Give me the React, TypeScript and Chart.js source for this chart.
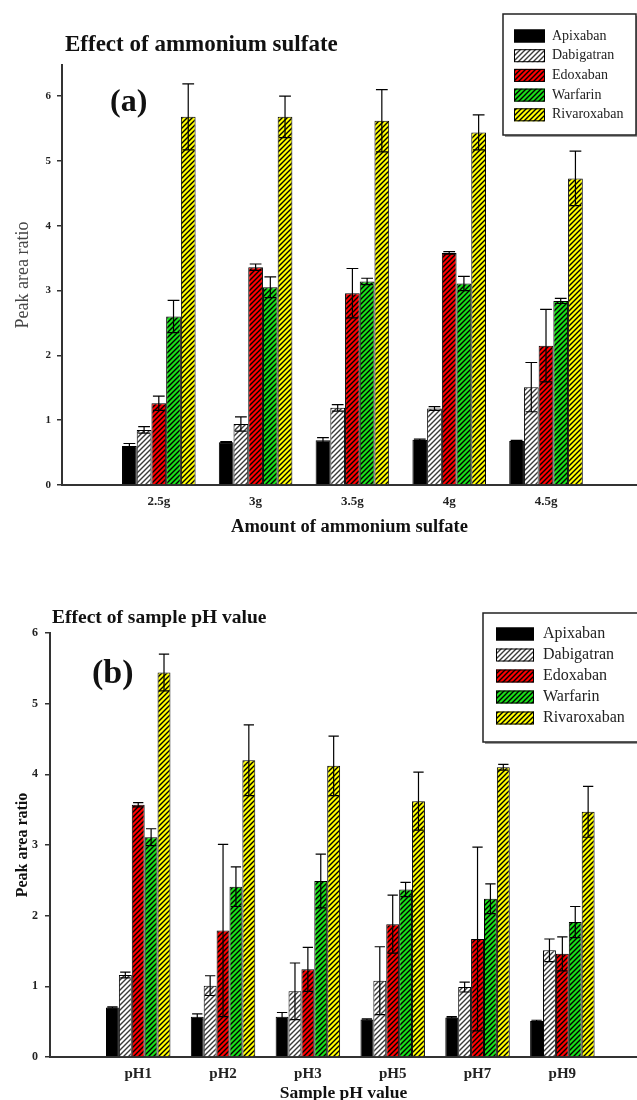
import React, { useEffect, useRef } from "react";
import { Chart, registerables } from "chart.js";

Chart.register(...registerables);

const SERIF = "'Liberation Serif', 'Times New Roman', serif";

// ---- series metadata ----
const seriesNames = ["Apixaban", "Dabigatran", "Edoxaban", "Warfarin", "Rivaroxaban"];
const seriesFill = ["#000000", "#ffffff", "#ff0000", "#19e019", "#ffff00"];
const seriesHatch = ["", "#3a3a3a", "#000000", "#000000", "#000000"];

// ---- (a) Effect of ammonium sulfate ----
const amountLabels = ["2.5g", "3g", "3.5g", "4g", "4.5g"];
const amountApixaban = [0.6, 0.66, 0.69, 0.7, 0.68];
const amountApixabanErr = [0.04, 0.01, 0.04, 0.01, 0.01];
const amountDabigatran = [0.85, 0.94, 1.19, 1.18, 1.51];
const amountDabigatranErr = [0.05, 0.11, 0.05, 0.03, 0.38];
const amountEdoxaban = [1.26, 3.36, 2.96, 3.58, 2.15];
const amountEdoxabanErr = [0.11, 0.05, 0.38, 0.02, 0.56];
const amountWarfarin = [2.6, 3.05, 3.14, 3.11, 2.84];
const amountWarfarinErr = [0.25, 0.16, 0.05, 0.11, 0.04];
const amountRivaroxaban = [5.68, 5.68, 5.62, 5.44, 4.73];
const amountRivaroxabanErr = [0.51, 0.32, 0.48, 0.27, 0.42];

// ---- (b) Effect of sample pH value ----
const phLabels = ["pH1", "pH2", "pH3", "pH5", "pH7", "pH9"];
const phApixaban = [0.7, 0.57, 0.57, 0.53, 0.56, 0.51];
const phApixabanErr = [0.01, 0.04, 0.06, 0.01, 0.01, 0.01];
const phDabigatran = [1.16, 1.01, 0.93, 1.08, 0.99, 1.51];
const phDabigatranErr = [0.04, 0.14, 0.4, 0.48, 0.07, 0.16];
const phEdoxaban = [3.57, 1.79, 1.24, 1.88, 1.67, 1.46];
const phEdoxabanErr = [0.03, 1.22, 0.31, 0.41, 1.3, 0.24];
const phWarfarin = [3.11, 2.41, 2.49, 2.37, 2.24, 1.91];
const phWarfarinErr = [0.12, 0.28, 0.38, 0.1, 0.21, 0.22];
const phRivaroxaban = [5.44, 4.2, 4.12, 3.62, 4.1, 3.47];
const phRivaroxabanErr = [0.26, 0.5, 0.42, 0.41, 0.04, 0.36];

const amountValues = [amountApixaban, amountDabigatran, amountEdoxaban, amountWarfarin, amountRivaroxaban];
const amountErrors = [amountApixabanErr, amountDabigatranErr, amountEdoxabanErr, amountWarfarinErr, amountRivaroxabanErr];
const phValues = [phApixaban, phDabigatran, phEdoxaban, phWarfarin, phRivaroxaban];
const phErrors = [phApixabanErr, phDabigatranErr, phEdoxabanErr, phWarfarinErr, phRivaroxabanErr];

function makeFill(ctx: CanvasRenderingContext2D, bg: string, line: string): any {
  if (!line) return bg;
  const s = 5;
  const c = document.createElement("canvas");
  c.width = s;
  c.height = s;
  const x = c.getContext("2d")!;
  x.fillStyle = bg;
  x.fillRect(0, 0, s, s);
  x.strokeStyle = line;
  x.lineWidth = 1.4;
  x.beginPath();
  x.moveTo(0, s);
  x.lineTo(s, 0);
  x.moveTo(-1, 1);
  x.lineTo(1, -1);
  x.moveTo(s - 1, s + 1);
  x.lineTo(s + 1, s - 1);
  x.stroke();
  return ctx.createPattern(c, "repeat");
}

const errorBarPlugin = {
  id: "errorBars",
  afterDatasetsDraw(chart: any) {
    const ctx = chart.ctx;
    const yScale = chart.scales.y;
    ctx.save();
    ctx.strokeStyle = "#000";
    ctx.lineWidth = 1.2;
    chart.data.datasets.forEach((ds: any, di: number) => {
      const meta = chart.getDatasetMeta(di);
      meta.data.forEach((bar: any, i: number) => {
        const v = ds.data[i].y;
        const e = ds.errors[i];
        const top = yScale.getPixelForValue(v + e);
        const bot = yScale.getPixelForValue(v - e);
        const half = bar.width * 0.4;
        ctx.beginPath();
        ctx.moveTo(bar.x, top);
        ctx.lineTo(bar.x, bot);
        ctx.moveTo(bar.x - half, top);
        ctx.lineTo(bar.x + half, top);
        ctx.moveTo(bar.x - half, bot);
        ctx.lineTo(bar.x + half, bot);
        ctx.stroke();
      });
    });
    ctx.restore();
  },
};

const annotPlugin = {
  id: "annot",
  afterDraw(chart: any, _args: any, opts: any) {
    const ctx = chart.ctx;
    ctx.save();
    ctx.fillStyle = "#111";
    ctx.textBaseline = "middle";
    ctx.textAlign = "left";
    ctx.font = `bold ${opts.titleSize}px ${SERIF}`;
    ctx.fillText(opts.title, opts.titleX, opts.titleY);
    ctx.font = `bold ${opts.panelSize}px ${SERIF}`;
    ctx.fillText(opts.panel, opts.panelX, opts.panelY);

    // legend box
    const L = opts.legend;
    ctx.fillStyle = "#9a9a9a";
    ctx.fillRect(L.x + 2, L.y + 2, L.w, L.h);
    ctx.fillStyle = "#fff";
    ctx.fillRect(L.x, L.y, L.w, L.h);
    ctx.strokeStyle = "#222";
    ctx.lineWidth = 1.5;
    ctx.strokeRect(L.x, L.y, L.w, L.h);
    ctx.font = `${L.fontSize}px ${SERIF}`;
    chart.data.datasets.forEach((ds: any, i: number) => {
      const cy = L.row0 + i * L.gap;
      ctx.fillStyle = ds.backgroundColor;
      ctx.fillRect(L.swX, cy - L.swH / 2, L.swW, L.swH);
      ctx.strokeStyle = "#000";
      ctx.lineWidth = 1;
      ctx.strokeRect(L.swX + 0.5, cy - L.swH / 2 + 0.5, L.swW - 1, L.swH - 1);
      ctx.fillStyle = "#222";
      ctx.fillText(ds.label, L.textX, cy);
    });
    ctx.restore();
  },
};

type Spec = {
  width: number;
  height: number;
  labels: string[];
  values: number[][];
  errors: number[][];
  xMin: number;
  xMax: number;
  yMax: number;
  padTop: number;
  yWidth: number;
  xHeight: number;
  yTickSize: number;
  yTickPad: number;
  yTitle: { size: number; weight: string; color: string; pad: number };
  xTickSize: number;
  xTickPad: number;
  xTitle: string;
  xTitleSize: number;
  xTitleLH: number;
  xTitlePad: number;
  annot: any;
};

function BarPanel({ spec }: { spec: Spec }) {
  const ref = useRef<HTMLCanvasElement | null>(null);
  useEffect(() => {
    const canvas = ref.current!;
    const ctx = canvas.getContext("2d")!;
    const datasets = seriesNames.map((name, si) => ({
      label: name,
      data: spec.labels.map((_, i) => ({ x: i + 1, y: spec.values[si][i] })),
      errors: spec.errors[si],
      backgroundColor: makeFill(ctx, seriesFill[si], seriesHatch[si]),
      borderColor: "#000",
      borderWidth: 1,
      categoryPercentage: 0.76,
      barPercentage: 1.0,
    }));
    const chart = new Chart(canvas, {
      type: "bar",
      data: { datasets } as any,
      plugins: [errorBarPlugin, annotPlugin],
      options: {
        animation: false,
        responsive: false,
        devicePixelRatio: 1,
        layout: { padding: { top: spec.padTop, left: 0, right: 0, bottom: 0 } },
        plugins: {
          legend: { display: false },
          tooltip: { enabled: false },
          annot: spec.annot,
        } as any,
        scales: {
          x: {
            type: "linear",
            offset: false,
            min: spec.xMin,
            max: spec.xMax,
            afterBuildTicks: (axis: any) => {
              axis.ticks = spec.labels.map((_, i) => ({ value: i + 1 }));
            },
            afterFit: (axis: any) => {
              axis.height = spec.xHeight;
            },
            ticks: {
              autoSkip: false,
              maxRotation: 0,
              padding: spec.xTickPad,
              color: "#222",
              font: { family: SERIF, size: spec.xTickSize, weight: "bold" },
              callback: (v: any) => spec.labels[Math.round(Number(v)) - 1] ?? "",
            },
            grid: { display: false, drawTicks: false, offset: false },
            border: { display: true, color: "#333", width: 2 },
            title: {
              display: true,
              text: spec.xTitle,
              color: "#111",
              font: { family: SERIF, size: spec.xTitleSize, weight: "bold", lineHeight: spec.xTitleLH },
              padding: { top: 0, bottom: spec.xTitlePad },
            },
          },
          y: {
            min: 0,
            max: spec.yMax,
            afterFit: (axis: any) => {
              axis.width = spec.yWidth;
            },
            ticks: {
              stepSize: 1,
              includeBounds: false,
              padding: spec.yTickPad,
              color: "#222",
              font: { family: SERIF, size: spec.yTickSize, weight: "bold" },
            },
            grid: { display: true, drawOnChartArea: false, drawTicks: true, tickLength: 5, color: "#333", lineWidth: 1.5 },
            border: { display: true, color: "#333", width: 2 },
            title: {
              display: true,
              text: "Peak area ratio",
              color: spec.yTitle.color,
              font: { family: SERIF, size: spec.yTitle.size, weight: spec.yTitle.weight, lineHeight: 1 },
              padding: { top: spec.yTitle.pad, bottom: 0 },
            },
          },
        },
      } as any,
    });
    return () => chart.destroy();
  }, [spec]);
  return <canvas ref={ref} width={spec.width} height={spec.height} style={{ display: "block" }} />;
}

const specA: Spec = {
  width: 637,
  height: 560,
  labels: amountLabels,
  values: amountValues,
  errors: amountErrors,
  xMin: 0,
  xMax: 5.94,
  yMax: 6.48,
  padTop: 65,
  yWidth: 62,
  xHeight: 75,
  yTickSize: 11,
  yTickPad: 6,
  yTitle: { size: 18, weight: "normal", color: "#444", pad: 14 },
  xTickSize: 13,
  xTickPad: 9,
  xTitle: "Amount of ammonium sulfate",
  xTitleSize: 18.5,
  xTitleLH: 1.2,
  xTitlePad: 22,
  annot: {
    title: "Effect of ammonium sulfate",
    titleX: 65,
    titleY: 45,
    titleSize: 23,
    panel: "(a)",
    panelX: 110,
    panelY: 103,
    panelSize: 32,
    legend: { x: 503, y: 14, w: 133, h: 121, swX: 514, swW: 31, swH: 13, textX: 552, row0: 36, gap: 19.7, fontSize: 14 },
  },
};

const specB: Spec = {
  width: 637,
  height: 540,
  labels: phLabels,
  values: phValues,
  errors: phErrors,
  xMin: -0.04,
  xMax: 6.88,
  yMax: 6,
  padTop: 73,
  yWidth: 50,
  xHeight: 43,
  yTickSize: 12,
  yTickPad: 7,
  yTitle: { size: 16, weight: "bold", color: "#111", pad: 15 },
  xTickSize: 15,
  xTickPad: 8,
  xTitle: "Sample pH value",
  xTitleSize: 17.5,
  xTitleLH: 0.8,
  xTitlePad: 0,
  annot: {
    title: "Effect of sample pH value",
    titleX: 52,
    titleY: 58,
    titleSize: 19.5,
    panel: "(b)",
    panelX: 92,
    panelY: 114,
    panelSize: 34,
    legend: { x: 483, y: 53, w: 160, h: 129, swX: 496, swW: 38, swH: 13, textX: 543, row0: 74, gap: 21, fontSize: 16 },
  },
};

export default function App() {
  return (
    <div style={{ position: "absolute", left: 0, top: 0, width: 637, height: 1100, background: "#fff", overflow: "hidden" }}>
      <BarPanel spec={specA} />
      <BarPanel spec={specB} />
    </div>
  );
}
